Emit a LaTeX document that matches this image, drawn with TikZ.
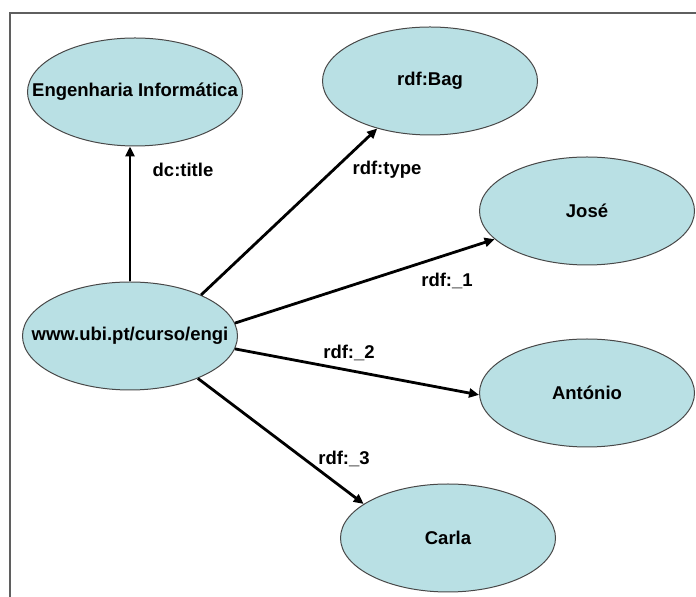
\documentclass[tikz,border=0pt]{standalone}
\usepackage{fontspec}
\setmainfont{Liberation Sans}
\usetikzlibrary{arrows.meta,shapes.geometric}
\definecolor{rdfink}{HTML}{000000}
\definecolor{rdfline}{HTML}{484848}
\definecolor{rdfframe}{HTML}{5F5F5F}
\definecolor{rdffill}{HTML}{B9E0E4}
\newcommand{\nodetext}[1]{\makebox[0pt]{#1}}
\tikzset{
  rdf text/.style={font=\fontsize{9.25}{11}\selectfont\bfseries, text=rdfink},
  rdf node/.style={ellipse, draw=rdfline, line width=0.5pt, fill=rdffill,
    inner sep=0pt, minimum width=107.5pt, minimum height=54pt},
  rdf arrow/.style={-{Triangle[length=5pt,width=4.5pt]}, line width=1.4pt,
    draw=rdfink},
  rdf frame/.style={draw=rdfframe, line width=1pt},
  rdf label/.style={rdf text, inner sep=0pt}
}
\begin{document}
\begin{tikzpicture}[rdf text, x=0.5pt, y=-0.5pt]
  \useasboundingbox (0,0) rectangle (696,597);
  \draw[rdf frame] (10,597) -- (10,13) -- (696,13);
  \node[rdf node] (eng) at (135,92) {\nodetext{Engenharia Informática}};
  \node[rdf node] (bag) at (430,81) {\nodetext{rdf:Bag}};
  \node[rdf node] (jose) at (587,211) {\nodetext{José}};
  \node[rdf node] (ubi) at (130,336) {\nodetext{www.ubi.pt/curso/engi}};
  \node[rdf node] (antonio) at (587,393) {\nodetext{António}};
  \node[rdf node] (carla) at (448,538) {\nodetext{Carla}};
  \draw[rdf arrow] (ubi.north) -- (ubi.north |- eng.south);
  \draw[rdf arrow] (ubi.30) -- (bag.222);
  \draw[rdf arrow] (ubi.7) -- (jose.197);
  \draw[rdf arrow] (ubi.-7) -- (antonio.181);
  \draw[rdf arrow] (ubi.-32) -- (carla.158);
  \node[rdf label] (title) at (183,170) {dc:title};
  \node[rdf label] (type) at (387,170) {rdf:type};
  \node[rdf label] (one) at (447,281) {rdf:\_1};
  \node[rdf label] (two) at (349,353) {rdf:\_2};
  \node[rdf label] (three) at (344,459) {rdf:\_3};
\end{tikzpicture}
\end{document}
